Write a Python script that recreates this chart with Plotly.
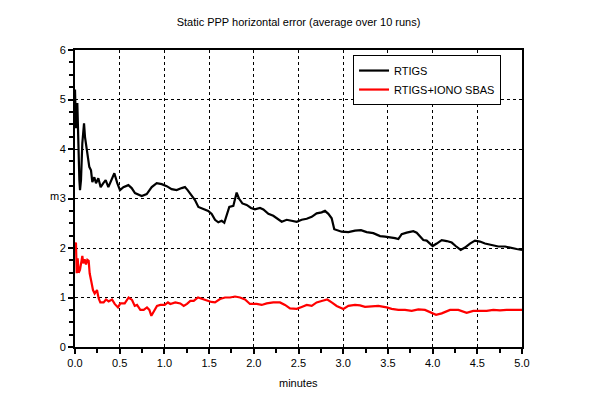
import plotly.graph_objects as go

# ---- data (minutes, metres) ----
rtigs_t = [0.0, 0.004, 0.011, 0.026, 0.037, 0.049, 0.056, 0.067, 0.082, 0.101, 0.112, 0.13, 0.16,
           0.179, 0.194, 0.216, 0.235, 0.261, 0.287, 0.317, 0.343, 0.373, 0.399, 0.44, 0.473,
           0.503, 0.541, 0.597, 0.634, 0.671, 0.746, 0.802, 0.858, 0.914, 0.97, 1.026,
           1.081, 1.137, 1.193, 1.23, 1.26, 1.305, 1.342, 1.38, 1.435, 1.49, 1.529, 1.566,
           1.603, 1.641, 1.67, 1.696, 1.726, 1.771, 1.79, 1.808, 1.834, 1.872, 1.92, 1.969,
           2.013, 2.069, 2.107, 2.163, 2.218, 2.267, 2.312, 2.368, 2.424, 2.48, 2.536, 2.592,
           2.648, 2.703, 2.759, 2.796, 2.834, 2.871, 2.9, 2.945, 2.983, 3.058, 3.132, 3.199,
           3.262, 3.337, 3.412, 3.468, 3.523, 3.579, 3.617, 3.654, 3.71, 3.784, 3.822, 3.859,
           3.896, 3.934, 3.971, 4.001, 4.046, 4.102, 4.158, 4.214, 4.258, 4.314, 4.362, 4.418,
           4.474, 4.53, 4.586, 4.661, 4.735, 4.81, 4.884, 4.94, 5.0]
rtigs_v = [5.2, 4.9, 4.42, 4.93, 3.84, 3.37, 3.17, 3.37, 4.12, 4.52, 4.24, 4.04, 3.64,
           3.57, 3.33, 3.43, 3.31, 3.41, 3.23, 3.31, 3.37, 3.23, 3.33, 3.51, 3.31,
           3.17, 3.23, 3.27, 3.21, 3.11, 3.05, 3.09, 3.23, 3.31, 3.29, 3.25,
           3.19, 3.17, 3.21, 3.23, 3.17, 3.07, 2.97, 2.83, 2.79, 2.75, 2.69, 2.57,
           2.52, 2.55, 2.51, 2.67, 2.83, 2.85, 3.0, 3.12, 3.0, 2.9, 2.87, 2.81,
           2.78, 2.81, 2.78, 2.69, 2.65, 2.58, 2.53, 2.57, 2.55, 2.53, 2.57, 2.59,
           2.63, 2.7, 2.72, 2.75, 2.69, 2.6, 2.38, 2.35, 2.33, 2.32, 2.35, 2.36,
           2.32, 2.3, 2.24, 2.23, 2.22, 2.2, 2.18, 2.28, 2.31, 2.34, 2.31, 2.24,
           2.16, 2.15, 2.09, 2.04, 2.09, 2.16, 2.14, 2.11, 2.04, 1.96, 2.01, 2.09,
           2.15, 2.13, 2.09, 2.06, 2.03, 2.03, 2.01, 1.98, 1.96]

sbas_t = [0.0, 0.011, 0.019, 0.03, 0.041, 0.056, 0.071, 0.082, 0.093, 0.108, 0.123, 0.138,
          0.153, 0.164, 0.183, 0.201, 0.22, 0.246, 0.265, 0.283, 0.32, 0.347, 0.376, 0.414,
          0.444, 0.481, 0.507, 0.556, 0.6, 0.638, 0.668, 0.694, 0.731, 0.768, 0.805, 0.832,
          0.854, 0.88, 0.917, 0.955, 1.003, 1.04, 1.066, 1.122, 1.178, 1.216, 1.253, 1.29,
          1.328, 1.376, 1.421, 1.477, 1.525, 1.566, 1.622, 1.678, 1.734, 1.79, 1.846, 1.902,
          1.957, 2.032, 2.088, 2.144, 2.218, 2.293, 2.349, 2.405, 2.48, 2.536, 2.592, 2.648,
          2.703, 2.759, 2.822, 2.871, 2.927, 3.002, 3.058, 3.132, 3.188, 3.244, 3.318, 3.393,
          3.486, 3.542, 3.617, 3.691, 3.766, 3.84, 3.915, 3.99, 4.038, 4.102, 4.195, 4.288,
          4.381, 4.455, 4.53, 4.605, 4.679, 4.754, 4.828, 4.903, 5.0]
sbas_v = [2.1, 2.09, 1.49, 1.79, 1.5, 1.56, 1.72, 1.84, 1.69, 1.77, 1.67, 1.76,
          1.74, 1.49, 1.32, 1.15, 1.08, 1.15, 0.98, 0.9, 0.9, 0.96, 0.92, 0.96,
          0.87, 0.8, 0.88, 0.88, 1.0, 0.95, 0.83, 0.85, 0.75, 0.75, 0.8, 0.75,
          0.63, 0.71, 0.83, 0.85, 0.85, 0.9, 0.87, 0.9, 0.88, 0.83, 0.87, 0.93,
          0.93, 1.0, 0.97, 0.93, 0.91, 0.9, 0.97, 1.0, 1.0, 1.02, 1.0, 0.96,
          0.87, 0.87, 0.85, 0.88, 0.9, 0.9, 0.85, 0.78, 0.77, 0.81, 0.85, 0.83,
          0.9, 0.93, 0.96, 0.9, 0.83, 0.77, 0.83, 0.85, 0.84, 0.81, 0.82, 0.83,
          0.8, 0.77, 0.75, 0.75, 0.73, 0.76, 0.75, 0.69, 0.65, 0.68, 0.75, 0.75,
          0.69, 0.73, 0.73, 0.73, 0.75, 0.74, 0.75, 0.75, 0.75]

x_ticks = [0.0, 0.5, 1.0, 1.5, 2.0, 2.5, 3.0, 3.5, 4.0, 4.5, 5.0]
x_tick_labels = ["0.0", "0.5", "1.0", "1.5", "2.0", "2.5", "3.0", "3.5", "4.0", "4.5", "5.0"]
y_ticks = [0, 1, 2, 3, 4, 5, 6]

FONT = "Liberation Sans, Arial, sans-serif"

fig = go.Figure()
fig.add_trace(go.Scatter(x=rtigs_t, y=rtigs_v, mode="lines", name="RTIGS",
                         line=dict(color="black", width=2.2)))
fig.add_trace(go.Scatter(x=sbas_t, y=sbas_v, mode="lines", name="RTIGS+IONO SBAS",
                         line=dict(color="#ff0000", width=2.2)))

axis_common = dict(
    showline=True, linecolor="black", linewidth=2, mirror=True,
    showgrid=True, gridcolor="black", gridwidth=1, griddash="dot",
    zeroline=False, ticks="outside", ticklen=5, tickwidth=2, tickcolor="black",
    tickfont=dict(family=FONT, size=11, color="black"),
)

fig.update_xaxes(range=[0, 5], tickvals=x_ticks, ticktext=x_tick_labels,
                 minor=dict(dtick=0.25, ticks="outside", ticklen=4, tickwidth=2,
                            tickcolor="black", showgrid=False),
                 **axis_common)
fig.update_yaxes(range=[0, 6], tickvals=y_ticks,
                 minor=dict(dtick=0.25, ticks="outside", ticklen=4, tickwidth=2,
                            tickcolor="black", showgrid=False),
                 **axis_common)

# page body adds an 8px offset; margins compensate
fig.update_layout(
    width=596, height=397,
    margin=dict(l=67, r=82, t=42, b=58),
    paper_bgcolor="white", plot_bgcolor="white",
    font=dict(family=FONT, size=11, color="black"),
    title=dict(text="Static PPP horizontal error (average over 10 runs)",
               x=0.5, xref="paper", y=1 - 14 / 397, yref="container",
               xanchor="center", yanchor="middle",
               font=dict(family=FONT, size=11, color="black")),
    showlegend=True,
    legend=dict(x=0.622, y=0.983, xanchor="left", yanchor="top",
                bgcolor="white", bordercolor="black", borderwidth=1,
                font=dict(family=FONT, size=11, color="black"),
                itemwidth=30, tracegroupgap=0),
    annotations=[
        dict(text="minutes", x=0.5, y=-(383 - 347) / 297, xref="paper", yref="paper",
             xanchor="center", yanchor="middle", showarrow=False,
             font=dict(family=FONT, size=11, color="black")),
        dict(text="m", x=-(14 / 447), y=3.05, xref="paper", yref="y",
             xanchor="right", yanchor="middle", showarrow=False,
             font=dict(family=FONT, size=11, color="black")),
    ],
)

fig.write_html("out.html")
